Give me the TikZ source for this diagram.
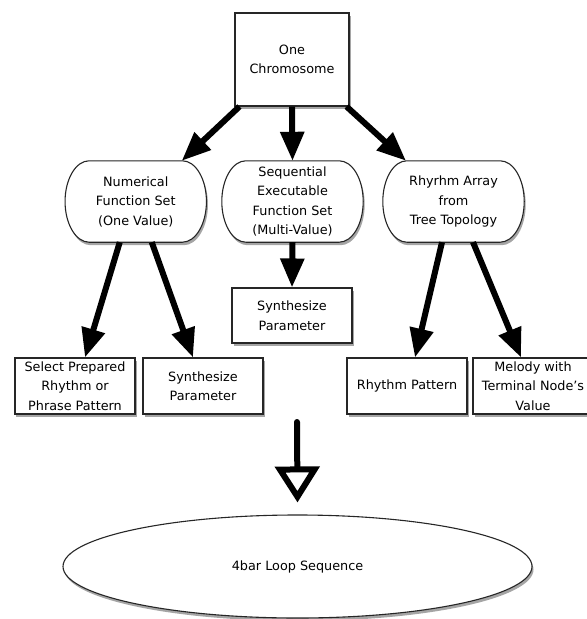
\documentclass[tikz,border=0pt]{standalone}
\usepackage{fontspec}
\setmainfont{DejaVu Sans}
\usetikzlibrary{arrows.meta,shadows,shapes.geometric,backgrounds}
\newcommand\capsule[1]{%
  \path[sq] ([xshift=24bp]#1.north west) -- ([xshift=-24bp]#1.north east)
    .. controls +(13.2bp,0) and +(0,22.4bp) .. (#1.east)
    .. controls +(0,-22.4bp) and +(13.2bp,0) .. ([xshift=-24bp]#1.south east)
    -- ([xshift=24bp]#1.south west)
    .. controls +(-13.2bp,0) and +(0,-22.4bp) .. (#1.west)
    .. controls +(0,22.4bp) and +(-13.2bp,0) .. ([xshift=24bp]#1.north west) -- cycle;}
\begin{document}
\begin{tikzpicture}[x=1bp,y=-1bp,
  every node/.style={font=\fontsize{12.8bp}{19.5bp}\selectfont, align=center, inner sep=0pt},
  sq/.style={draw=black!85, line width=1.1bp, fill=white, drop shadow={shadow xshift=1.5bp, shadow yshift=-3bp, opacity=0.5, fill=black!70}},
  rnd/.style={minimum width=141bp, minimum height=81bp},
  leaf/.style={sq, minimum width=120bp, minimum height=56bp},
  bigarrow/.style={line width=6bp, -{Triangle[length=29bp,width=23bp]}},
  hollowarrow/.style={line width=6bp, -{Triangle[open,length=36bp,width=44bp]}}
]
\useasboundingbox (0,0) rectangle (587,619);
\node[sq, minimum width=114bp, minimum height=93bp] (top) at (292,59.5) {One\\Chromosome};
\node[rnd] (num) at (135.75,201.5) {Numerical\\Function Set\\(One Value)};
\node[rnd] (seq) at (292.5,201.5) {Sequential\\Executable\\Function Set\\(Multi-Value)};
\node[rnd] (rhy) at (453.5,201.5) {Rhyrhm Array\\from\\Tree Topology};
\begin{pgfonlayer}{background}
\capsule{num}
\capsule{seq}
\capsule{rhy}
\end{pgfonlayer}
\node[leaf, minimum height=55bp] (syn1) at (292,315.5) {Synthesize\\Parameter};
\node[leaf] (sel) at (75,386) {Select Prepared\\Rhythm or\\Phrase Pattern};
\node[leaf] (syn2) at (203,386) {Synthesize\\Parameter};
\node[leaf] (rp) at (407,386) {Rhythm Pattern};
\node[leaf] (mel) at (533,386) {Melody with\\Terminal Node's\\Value};
\node[sq, ellipse, minimum width=469bp, minimum height=103bp] (ell) at (297.5,566.5) {4bar Loop Sequence};
\coordinate (src) at (297,422);

\draw[bigarrow] ([xshift=5bp]top.south west) -- ([xshift=46bp]num.north);
\draw[bigarrow] (top.south) -- (seq.north);
\draw[bigarrow] ([xshift=-3bp]top.south east) -- ([xshift=-47.5bp]rhy.north);
\draw[bigarrow] ([xshift=-16bp]num.south) -- ([xshift=10bp]sel.north);
\draw[bigarrow] ([xshift=16bp]num.south) -- ([xshift=-10bp]syn2.north);
\draw[bigarrow] (seq.south) -- (syn1.north);
\draw[bigarrow] ([xshift=-11.5bp]rhy.south) -- ([xshift=8bp]rp.north);
\draw[bigarrow] ([xshift=19.5bp]rhy.south) -- ([xshift=-12bp]mel.north);
\draw[hollowarrow, line cap=round] (src) -- ([yshift=12bp]ell.north);
\end{tikzpicture}
\end{document}
